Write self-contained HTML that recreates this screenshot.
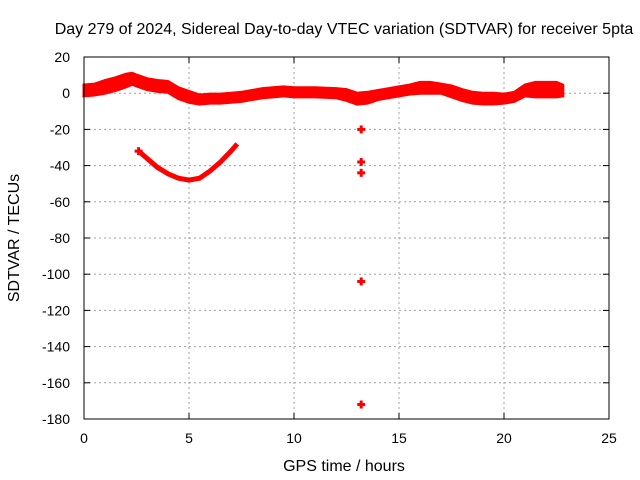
<!DOCTYPE html>
<html><head><meta charset="utf-8"><style>
body{margin:0;background:#fff}
svg{display:block;font-family:"Liberation Sans",Arial,sans-serif;font-size:14px}
.big{font-size:16px}
</style></head><body>
<svg id="chart" width="640" height="480">
<text class="big" x="344" y="34" text-anchor="middle">Day 279 of 2024, Sidereal Day-to-day VTEC variation (SDTVAR) for receiver 5pta</text>
<text class="big" x="344" y="471" text-anchor="middle">GPS time / hours</text>
<text class="big" transform="translate(19,238) rotate(-90)" text-anchor="middle">SDTVAR / TECUs</text>
<g id="grid"></g><g id="ticks"></g><g id="data"></g>
<rect x="84" y="57" width="525" height="362" fill="none" stroke="#000"/>
</svg>
<script>
const xTicks=[0,5,10,15,20,25];
const yTicks=[20,0,-20,-40,-60,-80,-100,-120,-140,-160,-180];
const bandHours=[0,0.5,1,1.5,2,2.3,2.5,3,3.5,4,4.5,5,5.5,6,6.5,7,7.5,8,8.5,9,9.5,10,11,12,12.5,13,13.5,14,15,15.5,16,16.5,17,17.5,18,18.5,19,19.5,20,20.5,21,21.5,22,22.5,22.8];
const bandCenter=[1.5,2,3.5,5,7,8,7,5,4,3.5,0,-2,-3.5,-3,-3,-2.5,-2,-1,0,0.5,1,0.5,0.5,0,-1,-3,-2.5,-1,1,2,3,3,2.5,1,-1,-2.5,-3,-3,-3,-2,1.5,2,2,2,1.5];
const bandHalf=[3,3,3.5,3.5,3.5,3,3,3,3,3,3,3,2.5,2.5,2.5,2.5,2.5,2.5,2.5,2.5,2.5,2.5,2.5,2.5,3,3,3,2.5,2.5,2.5,3,3,2.5,3,3,3,3,3,2.5,2.5,3,4,4,4,3];
const arcHours=[2.6,3,3.5,4,4.5,5,5.5,6,6.5,7,7.3];
const arcValues=[-32,-36,-41,-44.5,-47,-48,-47,-43,-38,-32,-28];
const outHours=[13.2,13.2,13.2,13.2,13.2];
const outValues=[-20,-38,-44,-104,-172];
const NS="http://www.w3.org/2000/svg";
const X=h=>84+h*21, Y=v=>93.2-v*1.81;
function mk(p,t,a){const e=document.createElementNS(NS,t);for(const k in a)e.setAttribute(k,a[k]);p.appendChild(e);return e;}
const grid=document.getElementById('grid'),ticks=document.getElementById('ticks'),data=document.getElementById('data');
xTicks.forEach(t=>{const x=X(t);
 if(t>0&&t<25){const l=mk(grid,'line',{x1:x,x2:x,y1:57,y2:419,stroke:'#a0a0a0','stroke-dasharray':'2,3'});
 }
 mk(ticks,'line',{x1:x,x2:x,y1:419,y2:413,stroke:'#000'});mk(ticks,'line',{x1:x,x2:x,y1:57,y2:63,stroke:'#000'});
 const tx=mk(ticks,'text',{x:x,y:443,'text-anchor':'middle'});tx.textContent=t;
 });
yTicks.forEach(t=>{const y=Y(t);
 if(t<20&&t>-180){const l=mk(grid,'line',{x1:84,x2:609,y1:y,y2:y,stroke:'#a0a0a0','stroke-dasharray':'2,3'});
 }
 mk(ticks,'line',{x1:84,x2:90,y1:y,y2:y,stroke:'#000'});mk(ticks,'line',{x1:603,x2:609,y1:y,y2:y,stroke:'#000'});
 const tx=mk(ticks,'text',{x:70,y:y+5,'text-anchor':'end'});tx.textContent=t;
 });
let up='',dn='';
bandHours.forEach((h,i)=>{up+=X(h)+','+Y(bandCenter[i]+bandHalf[i])+' ';});
for(let i=bandHours.length-1;i>=0;i--)dn+=X(bandHours[i])+','+Y(bandCenter[i]-bandHalf[i])+' ';
const band=mk(data,'polygon',{points:up+dn,fill:'#f00',stroke:'#f00','stroke-width':3});

const arc=mk(data,'polyline',{points:arcHours.map((h,i)=>X(h)+','+Y(arcValues[i])).join(' '),fill:'none',stroke:'#f00','stroke-width':5});

function plus(h,v,name){const g=mk(data,'g',{stroke:'#f00','stroke-width':3});
 mk(g,'line',{x1:X(h)-4,x2:X(h)+4,y1:Y(v),y2:Y(v)});mk(g,'line',{x1:X(h),x2:X(h),y1:Y(v)-4,y2:Y(v)+4});
 }
outHours.forEach((h,i)=>plus(h,outValues[i],'outlier-point'));
plus(arcHours[0],arcValues[0],'arc-start-point');
</script>
</body></html>
